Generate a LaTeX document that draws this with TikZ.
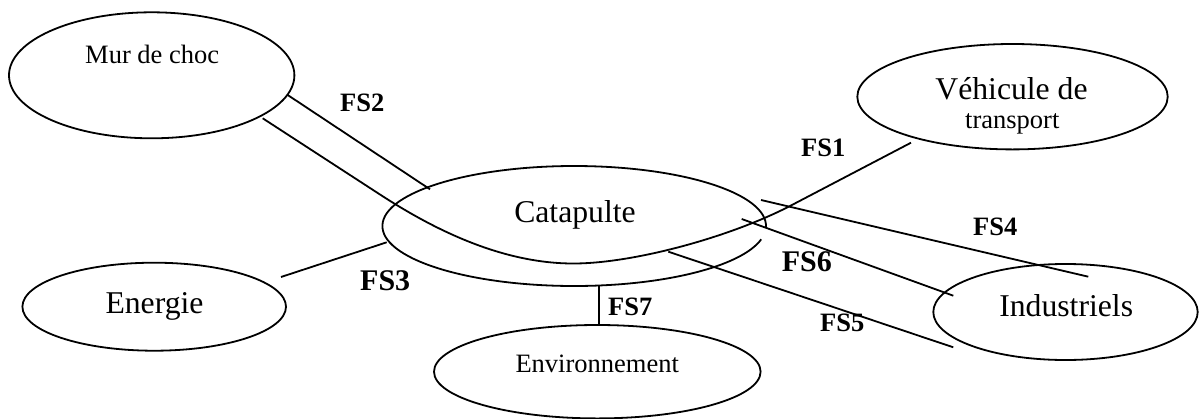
\documentclass[tikz,border=0pt]{standalone}
\usepackage{fontspec}
\setmainfont{Liberation Serif}
\usetikzlibrary{shapes.geometric}
\begin{document}
\begin{tikzpicture}[x=1pt,y=1pt,
  ell/.style={ellipse, draw, line width=1.8pt, inner sep=0pt},
  conn/.style={line width=1.8pt},
  big/.style={font=\fontsize{31.7}{36}\selectfont, anchor=base, inner sep=0pt},
  small/.style={font=\fontsize{26.5}{30}\selectfont, anchor=base, inner sep=0pt},
  fs/.style={font=\fontsize{26.5}{30}\selectfont\bfseries, anchor=base west, inner sep=0pt},
  fsbig/.style={font=\fontsize{30}{34}\selectfont\bfseries, anchor=base west, inner sep=0pt}]
\useasboundingbox (0,0) rectangle (1202,-418);
% ellipses
\node[ell, minimum width=285.4pt, minimum height=126pt] (mur) at (151.7,-75.3) {};
\node[ellipse, inner sep=0pt, minimum width=383.6pt, minimum height=120pt] (cat) at (574.2,-226) {};
\draw[line width=1.8pt] ([shift={(-1.2:191.8 and 60)}]cat.center) arc[start angle=-1.2, end angle=347.2, x radius=191.8, y radius=60];
\node[ell, minimum width=310.4pt, minimum height=105.4pt] (veh) at (1012.5,-96.7) {};
\node[ell, minimum width=263.6pt, minimum height=88pt] (ene) at (154.2,-306.7) {};
\node[ell, minimum width=326.6pt, minimum height=93.4pt] (env) at (597.3,-371.7) {};
\node[ell, minimum width=264.4pt, minimum height=96pt] (ind) at (1065.5,-312) {};
% texts
\node[small] (murT) at (152.2,-63.3) {Mur de choc};
\node[big] (catT) at (575,-222.7) {Catapulte};
\node[big] (vehT) at (1011.5,-99) {Véhicule de};
\node[small] (vehT2) at (1012.3,-128.3) {transport};
\node[big] (eneT) at (154.5,-313.3) {Energie};
\node[small] (envT) at (597.2,-372.7) {Environnement};
\node[big] (indT) at (1066.2,-316) {Industriels};
% connector end points
\coordinate (fs2a) at (287.7,-95);
\coordinate (fs2b) at (430,-189.3);
\coordinate (cA) at (262.7,-118.3);
\coordinate (cB) at (380,-194.5);
\coordinate (cC) at (575,-263.5);
\coordinate (cD) at (790,-206);
\coordinate (cE) at (911,-142.7);
\coordinate (fs3a) at (281,-277);
\coordinate (fs3b) at (386.7,-242.3);
\coordinate (fs7a) at (599,-286);
\coordinate (fs7b) at (599,-325);
\coordinate (fs4a) at (761,-200);
\coordinate (fs4b) at (1088.3,-276.7);
\coordinate (fs6a) at (741.7,-219);
\coordinate (fs6b) at (953.3,-295.7);
\coordinate (fs5a) at (668.3,-251.7);
\coordinate (fs5b) at (953.3,-347.3);
% connectors
\draw[conn] (fs2a) -- (fs2b);
\draw[conn] (cA) -- (cB) .. controls (430,-227) and (500,-264) .. (cC) .. controls (635,-263) and (730,-237) .. (cD) -- (cE);
\draw[conn] (fs3a) -- (fs3b);
\draw[conn] (fs7a) -- (fs7b);
\draw[conn] (fs4a) -- (fs4b);
\draw[conn] (fs6a) -- (fs6b);
\draw[conn] (fs5a) -- (fs5b);
% labels
\node[fs] (l2) at (340,-111.7) {FS2};
\node[fs] (l1) at (801,-156.7) {FS1};
\node[fs] (l4) at (973,-235) {FS4};
\node[fsbig] (l6) at (781.7,-271.7) {FS6};
\node[fsbig] (l3) at (360,-290) {FS3};
\node[fs] (l7) at (608,-315) {FS7};
\node[fs] (l5) at (820,-331.7) {FS5};
\end{tikzpicture}
\end{document}
